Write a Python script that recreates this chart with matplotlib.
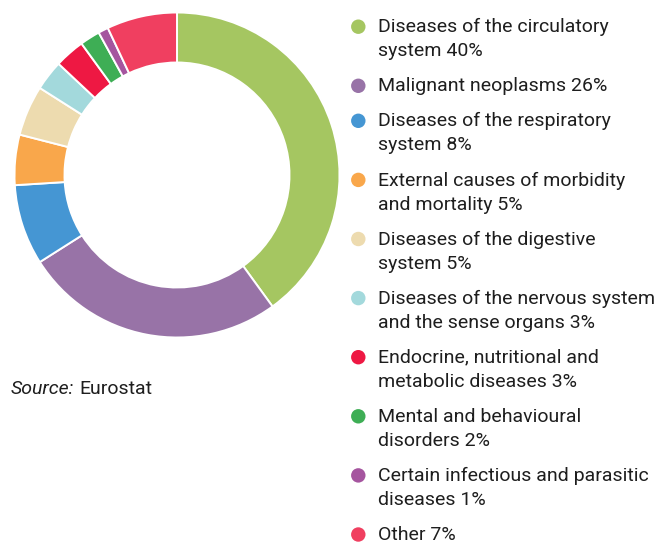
import matplotlib
matplotlib.use('Agg')
import matplotlib.pyplot as plt

plt.rcParams['font.family'] = ['Roboto', 'DejaVu Sans']

# causes of death, share in %
causes = [
    ['Diseases of the circulatory', 'system 40%'],
    ['Malignant neoplasms 26%'],
    ['Diseases of the respiratory', 'system 8%'],
    ['External causes of morbidity', 'and mortality 5%'],
    ['Diseases of the digestive', 'system 5%'],
    ['Diseases of the nervous system', 'and the sense organs 3%'],
    ['Endocrine, nutritional and', 'metabolic diseases 3%'],
    ['Mental and behavioural', 'disorders 2%'],
    ['Certain infectious and parasitic', 'diseases 1%'],
    ['Other 7%'],
]
shares = [40, 26, 8, 5, 5, 3, 3, 2, 1, 7]
colors = ['#A5C661', '#9873A7', '#4596D3', '#F9A74B', '#EDDBAF',
          '#A3D9DC', '#EE1843', '#3EAE55', '#A5559F', '#F03F60']

W, H = 659, 543
fig = plt.figure(figsize=(W / 100, H / 100), dpi=100)

# donut
cx, cy, r = 177, 175, 162.5
box = 330
ax = fig.add_axes([(cx - box / 2) / W, (H - cy - box / 2) / H, box / W, box / H])
ax.pie(shares, colors=colors, startangle=90, counterclock=False, radius=1,
       wedgeprops=dict(width=50 / r, edgecolor='white', linewidth=1.4))
lim = box / 2 / r
ax.set_xlim(-lim, lim)
ax.set_ylim(-lim, lim)
ax.set_aspect('equal')
ax.axis('off')

# legend drawn by hand in pixel coords
lax = fig.add_axes([0, 0, 1, 1])
lax.set_xlim(0, W)
lax.set_ylim(H, 0)
lax.axis('off')

fs = 14
tc = '#1e1e1e'
line_h = 24.1
gap = 10.9
y = 32.3
for lines, c in zip(causes, colors):
    lax.scatter([358.3], [y - 5.6], s=108, color=c, edgecolor='none')
    for i, t in enumerate(lines):
        lax.text(378, y + i * line_h, t, fontsize=fs, color=tc, va='baseline')
    y += len(lines) * line_h + gap

src = lax.text(11, 394, 'Source:', fontsize=fs, style='italic', color=tc, va='baseline')
fig.canvas.draw()
bb = src.get_window_extent().transformed(lax.transData.inverted())
lax.text(bb.x1 + 5, 394, 'Eurostat', fontsize=fs, color=tc, va='baseline')

fig.savefig('out.png', dpi=100)
